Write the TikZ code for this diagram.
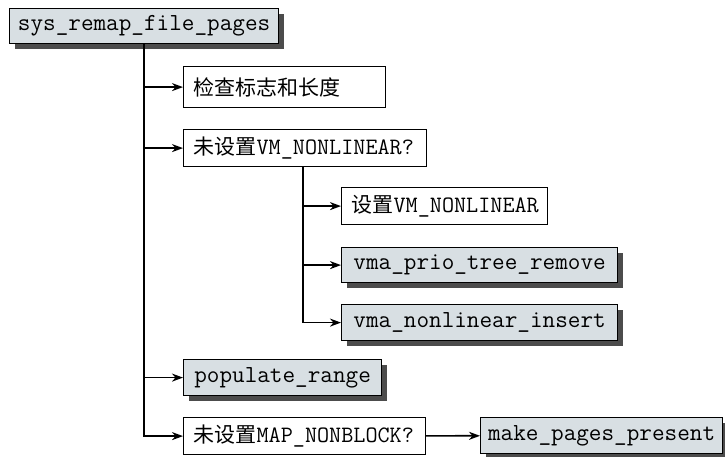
\documentclass[tikz,border=0pt]{standalone}
\usepackage{fontspec}
\newfontfamily\cjk{Noto Sans CJK SC}
\usetikzlibrary{arrows.meta,shadows}
\definecolor{fngray}{HTML}{D8DFE3}

\begin{document}
\begin{tikzpicture}[x=1pt,y=-1pt,
  box/.style={rectangle,draw,line width=1.2pt,fill=white,anchor=north west,
              inner sep=0pt,font=\fontsize{24.5}{26}\selectfont\ttfamily},
  fnbox/.style={box,fill=fngray,
              general shadow={fill=black!70,shadow xshift=5pt,shadow yshift=-5pt}},
  cond/.style={box,text width=#1,align=left,inner xsep=10pt,
              font=\fontsize{23.5}{26}\selectfont\ttfamily},
  arr/.style={-{Stealth[length=11pt,width=8pt,inset=3.5pt]},line width=1.7pt}
]
\useasboundingbox (0,0) rectangle (725,457);

\node[fnbox,minimum width=269pt,minimum height=35pt] (root)    at (9,8)     {sys\_remap\_file\_pages};
\node[cond=182pt,minimum height=41pt]               (chk)     at (183,66)  {{\cjk\fontsize{21}{26}\selectfont 检查标志和长度}};
\node[cond=223pt,minimum height=37pt]               (vmq)     at (183,129) {{\cjk\fontsize{21}{26}\selectfont 未设置}VM\_NONLINEAR?};
\node[cond=186pt,minimum height=37pt]               (setvm)   at (341,187) {{\cjk\fontsize{21}{26}\selectfont 设置}VM\_NONLINEAR};
\node[fnbox,minimum width=276pt,minimum height=35pt] (prio)    at (341,247) {vma\_prio\_tree\_remove};
\node[fnbox,minimum width=276pt,minimum height=36pt] (insert)  at (341,304) {vma\_nonlinear\_insert};
\node[fnbox,minimum width=198pt,minimum height=36pt] (popul)   at (183,359) {populate\_range};
\node[cond=222pt,minimum height=37pt]               (mapq)    at (183,417) {{\cjk\fontsize{21}{26}\selectfont 未设置}MAP\_NONBLOCK?};
\node[fnbox,minimum width=242pt,minimum height=36pt] (present) at (480,417) {make\_pages\_present};

\draw[arr] (root.south) |- (chk.west);
\draw[arr] (root.south) |- (vmq.west);
\draw[arr] (root.south) |- (popul.west);
\draw[arr] (root.south) |- (mapq.west);
\draw[arr] ([xshift=-2pt]vmq.south) |- (setvm.west);
\draw[arr] ([xshift=-2pt]vmq.south) |- (prio.west);
\draw[arr] ([xshift=-2pt]vmq.south) |- (insert.west);
\draw[arr] (mapq) -- (present);
\end{tikzpicture}
\end{document}
